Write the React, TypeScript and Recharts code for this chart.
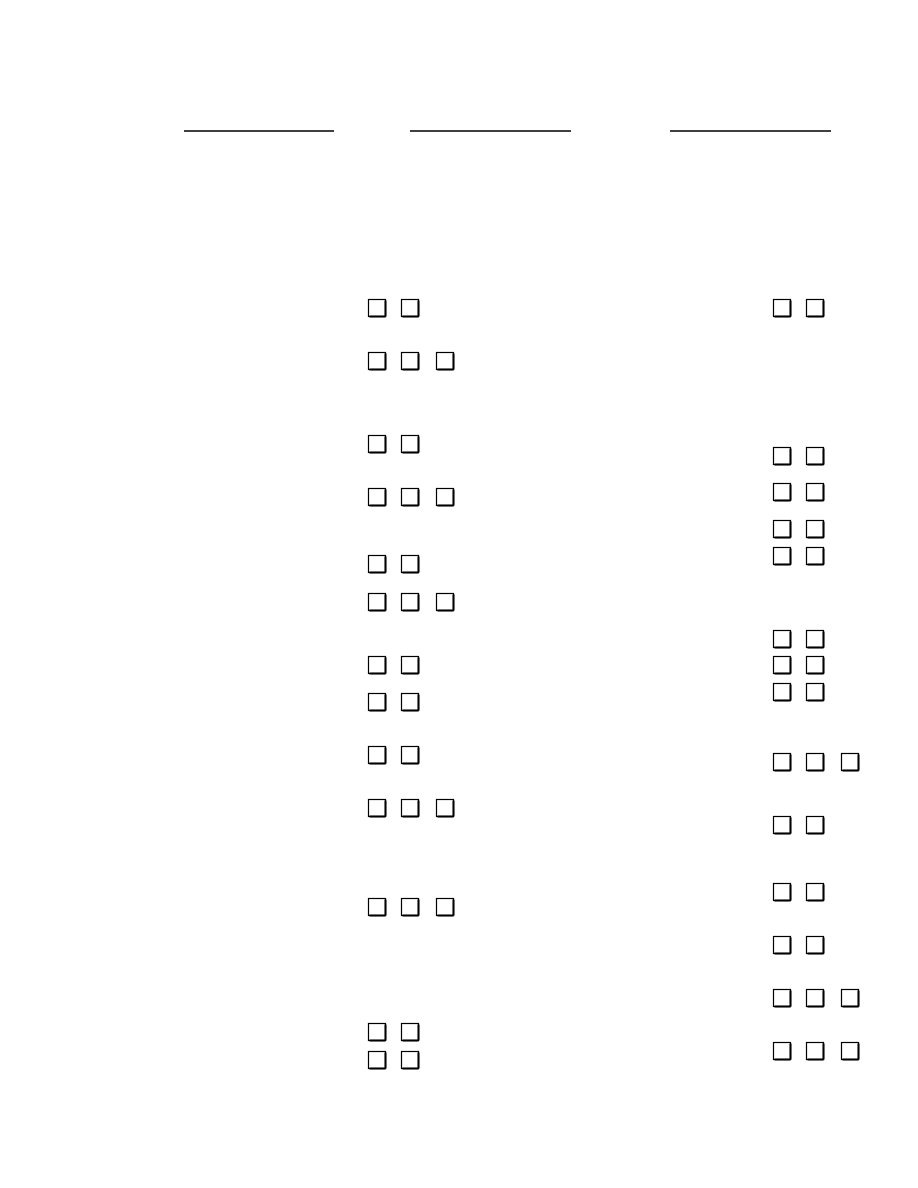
import { ScatterChart, Scatter, XAxis, YAxis, ReferenceLine } from "recharts";

const leftColumnX = [377, 410, 445];
const rightColumnX = [782, 815, 850];

const leftRowY = [308, 361, 444, 497, 564, 602, 665, 702, 755, 808, 907, 1032, 1060];
const leftRowBoxes = [2, 3, 2, 3, 2, 3, 2, 2, 2, 3, 3, 2, 2];

const rightRowY = [308, 456, 492, 529, 556, 639, 665, 692, 762, 825, 892, 945, 998, 1051];
const rightRowBoxes = [2, 2, 2, 2, 2, 2, 2, 2, 3, 2, 2, 2, 3, 3];

const headerLines = [
  [184, 334],
  [410, 571],
  [670, 831],
];
const headerY = 131;

const buildBoxes = (cols: number[], ys: number[], counts: number[]) =>
  ys.flatMap((y, i) => cols.slice(0, counts[i]).map((x) => ({ x, y })));

const boxes = [
  ...buildBoxes(leftColumnX, leftRowY, leftRowBoxes),
  ...buildBoxes(rightColumnX, rightRowY, rightRowBoxes),
];

const CheckBox = (props: any) => {
  const { cx, cy } = props;
  const s = 17;
  const l = cx - s / 2;
  const t = cy - s / 2;
  return (
    <g>
      <rect x={l} y={t} width={s} height={s} fill="#fff" stroke="#000" strokeWidth={1.2} />
      <line x1={l + 1} y1={t + s} x2={l + s} y2={t + s} stroke="#000" strokeWidth={2} />
      <line x1={l + s} y1={t + 1} x2={l + s} y2={t + s} stroke="#000" strokeWidth={2} />
    </g>
  );
};

const App = () => (
  <div style={{ position: "absolute", left: 0, top: 0, background: "#fff" }}>
    <ScatterChart width={918} height={1188} margin={{ top: 0, right: 0, bottom: 0, left: 0 }}>
      <XAxis type="number" dataKey="x" domain={[0, 918]} hide />
      <YAxis type="number" dataKey="y" domain={[0, 1188]} reversed hide />
      {headerLines.map(([a, b], i) => (
        <ReferenceLine
          key={i}
          segment={[{ x: a, y: headerY }, { x: b, y: headerY }]}
          stroke="#000"
          strokeWidth={1.5}
        />
      ))}
      <Scatter data={boxes} shape={<CheckBox />} isAnimationActive={false} />
    </ScatterChart>
  </div>
);

export default App;
